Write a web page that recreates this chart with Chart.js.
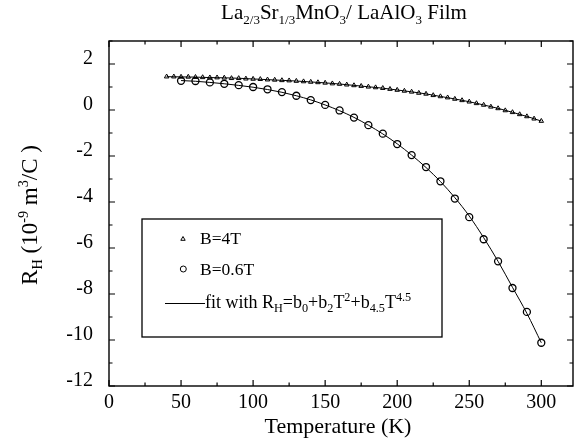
<!DOCTYPE html>
<html>
<head>
<meta charset="utf-8">
<script src="https://cdn.jsdelivr.net/npm/chart.js@4/dist/chart.umd.min.js"></script>
<style>
  html, body { margin: 0; padding: 0; background: #fff; }
  #wrap { width: 585px; height: 445px; }
</style>
</head>
<body>
<div id="wrap"><canvas id="c" width="585" height="445"></canvas></div>
<script>
// Hall coefficient of a La2/3Sr1/3MnO3 film on LaAlO3 versus temperature
const tempB4 = [40,45,50,55,60,65,70,75,80,85,90,95,100,105,110,115,120,125,130,135,140,145,150,155,160,165,170,175,180,185,190,195,200,205,210,215,220,225,230,235,240,245,250,255,260,265,270,275,280,285,290,295,300];
const rhB4 = [1.45,1.45,1.44,1.44,1.43,1.42,1.41,1.41,1.40,1.38,1.38,1.36,1.35,1.34,1.32,1.31,1.29,1.28,1.26,1.24,1.22,1.20,1.18,1.15,1.13,1.10,1.07,1.04,1.01,0.98,0.95,0.91,0.87,0.83,0.79,0.74,0.70,0.64,0.59,0.54,0.48,0.42,0.36,0.29,0.22,0.14,0.07,-0.02,-0.10,-0.19,-0.28,-0.38,-0.48];

const tempB06 = [50,60,70,80,90,100,110,120,130,140,150,160,170,180,190,200,210,220,230,240,250,260,270,280,290,300];
const rhB06 = [1.27,1.26,1.20,1.14,1.08,1.00,0.90,0.78,0.62,0.43,0.22,-0.02,-0.33,-0.66,-1.03,-1.48,-1.96,-2.48,-3.10,-3.85,-4.66,-5.62,-6.58,-7.74,-8.78,-10.12];

// fitted curves R_H = b0 + b2 T^2 + b4.5 T^4.5
const fitTempB4 = [40,50,60,70,80,90,100,110,120,130,140,150,160,170,180,190,200,210,220,230,240,250,260,270,280,290,300];
const fitB4 = [1.45,1.44,1.43,1.41,1.40,1.38,1.35,1.32,1.29,1.26,1.22,1.18,1.13,1.07,1.01,0.95,0.87,0.79,0.70,0.59,0.48,0.36,0.22,0.07,-0.10,-0.28,-0.48];
const fitTempB06 = [50,60,70,80,90,100,110,120,130,140,150,160,170,180,190,200,210,220,230,240,250,260,270,280,290,300];
const fitB06 = [1.28,1.25,1.20,1.14,1.07,0.99,0.89,0.77,0.62,0.44,0.22,-0.03,-0.32,-0.66,-1.04,-1.47,-1.96,-2.50,-3.11,-3.81,-4.61,-5.55,-6.58,-7.71,-8.84,-10.12];

// labelled ticks
const xTickLabels = [0,50,100,150,200,250,300];
const yTickLabels = [-12,-10,-8,-6,-4,-2,0,2];

const SERIF = '"Liberation Serif", "Times New Roman", serif';
const pts = (xs, ys) => xs.map((x, i) => ({ x: x, y: ys[i] }));

function fontOf(size) { return size + 'px ' + SERIF; }

// text with sub/superscript runs: parts = [[text, ''|'sub'|'sup'], ...]
function drawRich(ctx, parts, x, y, size, align, ratio) {
  const small = size * (ratio || 0.62);
  const widths = parts.map(([t, m]) => {
    ctx.font = fontOf(m ? small : size);
    return ctx.measureText(t).width;
  });
  const total = widths.reduce((a, b) => a + b, 0);
  let cx = align === 'center' ? x - total / 2 : x;
  ctx.textAlign = 'left';
  ctx.textBaseline = 'alphabetic';
  parts.forEach(([t, m], i) => {
    ctx.font = fontOf(m ? small : size);
    const dy = m === 'sub' ? size * 0.22 : (m === 'sup' ? -size * 0.4 : 0);
    ctx.fillText(t, cx, y + dy);
    cx += widths[i];
  });
}

const decor = {
  id: 'decor',
  afterDraw(chart) {
    const ctx = chart.ctx;
    const a = chart.chartArea;
    const xs = chart.scales.x, ys = chart.scales.y;
    ctx.save();
    ctx.strokeStyle = '#000';
    ctx.fillStyle = '#000';

    // frame
    ctx.lineWidth = 1.4;
    ctx.strokeRect(a.left, a.top, a.right - a.left, a.bottom - a.top);

    // inward ticks on all four sides
    ctx.lineWidth = 1.2;
    ctx.beginPath();
    xs.ticks.forEach(t => {
      const px = xs.getPixelForValue(t.value);
      const len = xTickLabels.includes(t.value) ? 6 : 3.5;
      ctx.moveTo(px, a.bottom); ctx.lineTo(px, a.bottom - len);
      ctx.moveTo(px, a.top); ctx.lineTo(px, a.top + len);
    });
    ys.ticks.forEach(t => {
      const py = ys.getPixelForValue(t.value);
      const len = yTickLabels.includes(t.value) ? 6 : 3.5;
      ctx.moveTo(a.left, py); ctx.lineTo(a.left + len, py);
      ctx.moveTo(a.right, py); ctx.lineTo(a.right - len, py);
    });
    ctx.stroke();

    // title
    drawRich(ctx, [['La',''],['2/3','sub'],['Sr',''],['1/3','sub'],['MnO',''],['3','sub'],['/ LaAlO',''],['3','sub'],[' Film','']], 344, 19, 21, 'center');

    // x axis title
    drawRich(ctx, [['Temperature (K)','']], 338, 433, 22, 'center');

    // y axis title
    ctx.save();
    ctx.translate(37, 215);
    ctx.rotate(-Math.PI / 2);
    drawRich(ctx, [['R',''],['H','sub'],[' (10',''],['-9','sup'],[' m',''],['3','sup'],['/C )','']], 0, 0, 23, 'center');
    ctx.restore();

    // legend box
    ctx.lineWidth = 1.3;
    ctx.strokeRect(142, 219, 300, 118);

    // legend markers
    ctx.lineWidth = 1;
    ctx.beginPath();
    ctx.moveTo(183, 236.5); ctx.lineTo(185.2, 240.3); ctx.lineTo(180.8, 240.3); ctx.closePath();
    ctx.stroke();
    ctx.beginPath();
    ctx.arc(183.3, 269, 3, 0, Math.PI * 2);
    ctx.stroke();
    ctx.beginPath();
    ctx.moveTo(165, 303.5); ctx.lineTo(205, 303.5);
    ctx.stroke();

    // legend labels
    drawRich(ctx, [['B=4T','']], 200, 244, 17.5, 'left');
    drawRich(ctx, [['B=0.6T','']], 200, 275, 17.5, 'left');
    drawRich(ctx, [['fit with R',''],['H','sub'],['=b',''],['0','sub'],['+b',''],['2','sub'],['T',''],['2','sup'],['+b',''],['4.5','sub'],['T',''],['4.5','sup']], 205, 308, 18, 'left', 0.68);

    ctx.restore();
  }
};

new Chart(document.getElementById('c'), {
  type: 'scatter',
  data: {
    datasets: [
      {
        label: 'fit B=4T',
        data: pts(fitTempB4, fitB4),
        showLine: true,
        borderColor: '#000',
        borderWidth: 1,
        pointRadius: 0,
        cubicInterpolationMode: 'monotone',
        order: 3
      },
      {
        label: 'fit B=0.6T',
        data: pts(fitTempB06, fitB06),
        showLine: true,
        borderColor: '#000',
        borderWidth: 1,
        pointRadius: 0,
        cubicInterpolationMode: 'monotone',
        order: 3
      },
      {
        label: 'B=4T',
        data: pts(tempB4, rhB4),
        pointStyle: 'triangle',
        pointRadius: 2.6,
        borderWidth: 1,
        borderColor: '#000',
        backgroundColor: 'rgba(255,255,255,0)',
        order: 1
      },
      {
        label: 'B=0.6T',
        data: pts(tempB06, rhB06),
        pointStyle: 'circle',
        pointRadius: 3.5,
        borderWidth: 1.3,
        borderColor: '#000',
        backgroundColor: 'rgba(255,255,255,0)',
        order: 1
      }
    ]
  },
  options: {
    responsive: false,
    animation: false,
    layout: { padding: { top: 41, right: 12, left: 0, bottom: 0 } },
    plugins: {
      legend: { display: false },
      title: { display: false },
      tooltip: { enabled: false }
    },
    scales: {
      x: {
        type: 'linear',
        min: 0,
        max: 322,
        grid: { display: false, drawTicks: false },
        border: { display: false },
        ticks: {
          stepSize: 25,
          includeBounds: false,
          autoSkip: false,
          maxRotation: 0,
          padding: 5,
          color: '#000',
          font: { family: SERIF, size: 20 },
          callback: v => xTickLabels.includes(v) ? String(v) : ''
        },
        afterFit: s => { s.height = 59; }
      },
      y: {
        type: 'linear',
        min: -12,
        max: 3,
        grid: { display: false, drawTicks: false },
        border: { display: false },
        ticks: {
          stepSize: 1,
          includeBounds: false,
          autoSkip: false,
          padding: 16,
          labelOffset: -5,
          color: '#000',
          font: { family: SERIF, size: 20 },
          callback: v => yTickLabels.includes(v) ? String(v) : ''
        },
        afterFit: s => { s.width = 109; }
      }
    }
  },
  plugins: [decor]
});
</script>
</body>
</html>
